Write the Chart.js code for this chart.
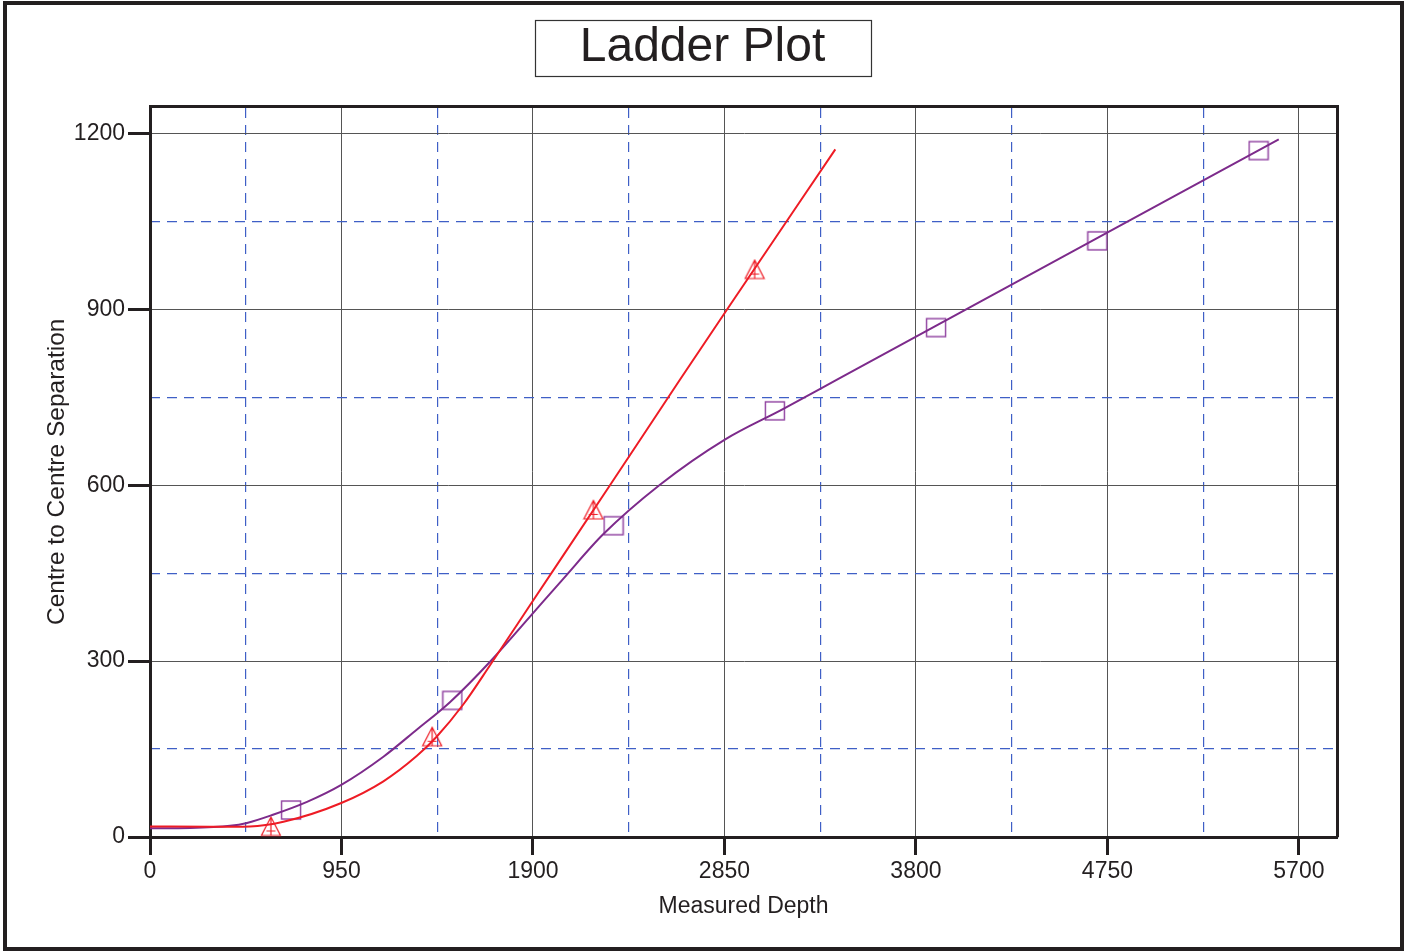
<!DOCTYPE html>
<html><head><meta charset="utf-8">
<script src="https://cdn.jsdelivr.net/npm/chart.js@4.4.1/dist/chart.umd.min.js"></script>
<style>html,body{margin:0;padding:0;background:#fff;}canvas{display:block;}</style>
</head><body>
<canvas id="c" width="1405" height="951"></canvas>
<script>
// ---- data ----
const chartTitle = 'Ladder Plot';
const xTitle = 'Measured Depth';
const yTitle = 'Centre to Centre Separation';
const xMajorTicks = [0, 950, 1900, 2850, 3800, 4750, 5700];
const xMinorTicks = [475, 1425, 2375, 3325, 4275, 5225];
const yMajorTicks = [0, 300, 600, 900, 1200];
const yMinorTicks = [150, 450, 750, 1050];
const xMax = 5889;
const yMax = 1246;

const redLineX = [0, 300, 496, 662, 949, 1158, 1323, 1422, 1554, 1687, 1900, 2282, 2629, 2867, 3400];
const redLineY = [18, 17.5, 18, 26, 58, 95, 138, 171, 226, 293, 403, 600, 780, 902, 1173];
const redMarkX = [600, 1400, 2200, 3000];
const redMarkY = [18, 171, 558, 968];

const purpleLineX = [0, 200, 397, 481, 610, 779, 949, 1158, 1323, 1488, 1687, 1959, 2049, 2247, 2530, 2852, 3140, 3413, 5600];
const purpleLineY = [15, 15.5, 19, 24, 38, 60, 89, 137, 183, 230, 299, 405, 440, 516, 601, 678, 730, 781, 1190];
const purpleMarkX = [700, 1500, 2300, 3100, 3900, 4700, 5500];
const purpleMarkY = [46, 233, 531, 727, 869, 1017, 1171];

// ---- styles ----
const RED = '#ee1c25';
const PURPLE = '#7d2b8b';
const INK = '#231f20';
const BLUE = '#3f5fc6';
const FONT = "'Liberation Sans', Arial, sans-serif";

function pts(xs, ys) { return xs.map((x, i) => ({x: x, y: ys[i]})); }

function triangleIcon() {
  const c = document.createElement('canvas');
  c.width = 22; c.height = 22;
  const g = c.getContext('2d');
  g.strokeStyle = RED; g.lineWidth = 1.2;
  g.beginPath();
  g.moveTo(11, 1.5); g.lineTo(20.5, 20); g.lineTo(1.5, 20); g.closePath();
  g.moveTo(11, 2); g.lineTo(11, 20);
  g.moveTo(6.5, 15.5); g.lineTo(15.5, 15.5);
  g.stroke();
  return c;
}
function squareIcon() {
  const c = document.createElement('canvas');
  c.width = 22; c.height = 22;
  const g = c.getContext('2d');
  g.strokeStyle = '#8e3e9e'; g.lineWidth = 1.4;
  g.strokeRect(1.5, 2, 19, 18);
  return c;
}

const decorPlugin = {
  id: 'decor',
  afterDraw(chart) {
    const ctx = chart.ctx;
    ctx.save();
    ctx.strokeStyle = INK;
    ctx.lineWidth = 4;
    ctx.strokeRect(5, 3, chart.width - 8, chart.height - 5);
    const tb = chart.titleBlock;
    const tf = chart.options.plugins.title.font;
    ctx.font = tf.size + 'px ' + tf.family;
    const tw = ctx.measureText(chartTitle).width;
    const cx = (tb.left + tb.right) / 2;
    const cy = tb.top + chart.options.plugins.title.padding.top + tf.size * 1.2 / 2;
    ctx.lineWidth = 1.2;
    ctx.strokeStyle = '#333';
    ctx.strokeRect(Math.round(cx - tw / 2 - 45) + 0.5, Math.round(cy - 28) + 0.5, Math.round(tw + 90), 56);
    ctx.restore();
  }
};

const plain = v => String(v);

new Chart(document.getElementById('c'), {
  type: 'line',
  data: {
    datasets: [
      {data: pts(redLineX, redLineY), borderColor: RED, borderWidth: 2, pointRadius: 0, cubicInterpolationMode: 'monotone', fill: false},
      {data: pts(purpleLineX, purpleLineY), borderColor: PURPLE, borderWidth: 2, pointRadius: 0, cubicInterpolationMode: 'monotone', fill: false},
      {data: pts(redMarkX, redMarkY), showLine: false, pointStyle: triangleIcon(), pointRadius: 11, borderColor: RED},
      {data: pts(purpleMarkX, purpleMarkY), showLine: false, pointStyle: squareIcon(), pointRadius: 11, borderColor: PURPLE}
    ]
  },
  options: {
    responsive: false,
    animation: false,
    devicePixelRatio: 1,
    layout: {padding: 0},
    plugins: {
      legend: {display: false},
      tooltip: {enabled: false},
      title: {display: true, text: chartTitle, color: INK, font: {family: FONT, size: 48, weight: 'normal'}, padding: {top: 19, bottom: 30}}
    },
    scales: {
      x: {
        type: 'linear', position: 'bottom', min: 0, max: xMax,
        afterBuildTicks: s => { s.ticks = xMajorTicks.map(v => ({value: v})); },
        afterFit: s => { s.height = 114; },
        grid: {color: '#555', lineWidth: 1, tickLength: 18, tickWidth: 3, tickColor: INK},
        border: {display: true, color: INK, width: 3},
        ticks: {color: INK, font: {family: FONT, size: 23}, padding: 3, maxRotation: 0, autoSkip: false, callback: plain},
        title: {display: true, text: xTitle, color: INK, font: {family: FONT, size: 23}, padding: {top: 0, bottom: 31}}
      },
      x2: {
        type: 'linear', position: 'top', min: 0, max: xMax,
        afterBuildTicks: s => { s.ticks = xMinorTicks.map(v => ({value: v})); },
        afterFit: s => { s.height = 0; },
        grid: {color: BLUE, lineWidth: 1.2, drawTicks: false},
        border: {display: true, color: INK, width: 3, dash: [10, 7]},
        ticks: {display: false}
      },
      y: {
        type: 'linear', position: 'left', min: 0, max: yMax,
        afterBuildTicks: s => { s.ticks = yMajorTicks.map(v => ({value: v})); },
        afterFit: s => { s.width = 150; },
        grid: {color: '#555', lineWidth: 1, tickLength: 22, tickWidth: 3, tickColor: INK},
        border: {display: true, color: INK, width: 3},
        ticks: {color: INK, font: {family: FONT, size: 23}, padding: 3, autoSkip: false, callback: plain},
        title: {display: true, text: yTitle, color: INK, font: {family: FONT, size: 24.5}, padding: {top: 43, bottom: 0}}
      },
      y2: {
        type: 'linear', position: 'right', min: 0, max: yMax,
        afterBuildTicks: s => { s.ticks = yMinorTicks.map(v => ({value: v})); },
        afterFit: s => { s.width = 68; },
        grid: {color: BLUE, lineWidth: 1.2, drawTicks: false},
        border: {display: true, color: INK, width: 3, dash: [10, 7]},
        ticks: {display: false}
      }
    }
  },
  plugins: [decorPlugin]
});
</script>
</body></html>
